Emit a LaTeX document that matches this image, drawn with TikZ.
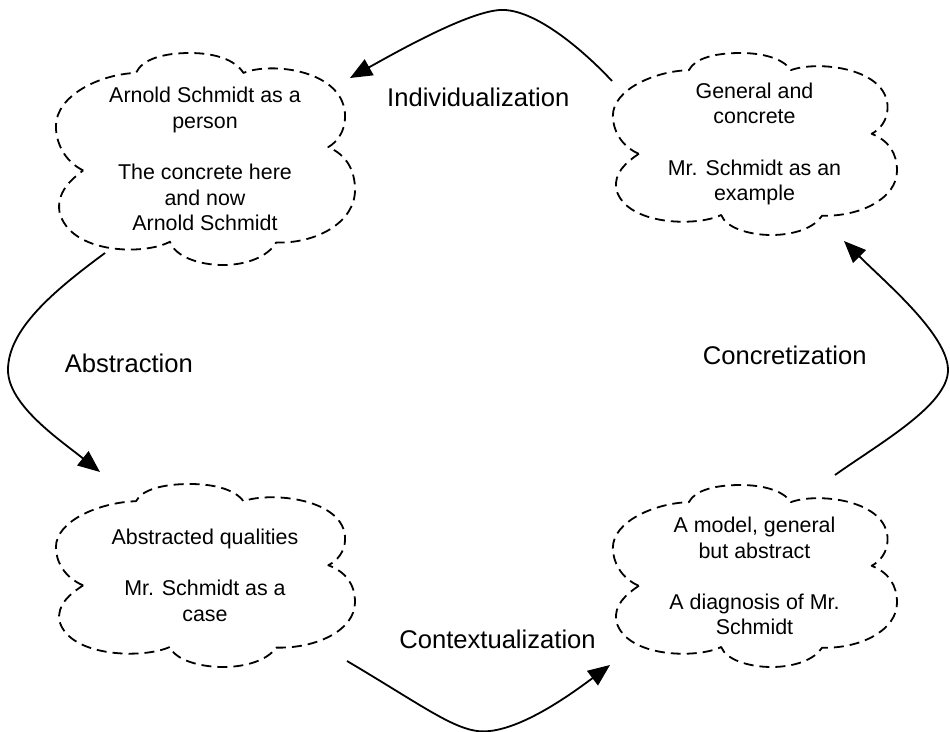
\documentclass[tikz,border=0pt]{standalone}
\usepackage{fontspec}
\setmainfont{Liberation Sans}
\usetikzlibrary{arrows.meta}
\tikzset{
  cloudline/.style={draw=black, line width=1.8bp, dash pattern=on 10bp off 6bp, line join=round},
  cloudtext/.style={align=center, inner sep=0pt, font=\fontsize{21.4bp}{25.6bp}\selectfont},
  lbl/.style={inner sep=0pt, font=\fontsize{25.6bp}{30bp}\selectfont},
  conn/.style={line width=1.8bp, -{Triangle[length=22bp,width=18bp]}},
}
\newcommand\cloudoutline[4]{%
  \draw[cloudline, shift={(#1,#2)}, xscale=#3, yscale=#4]
    (0.094,0.554) .. controls (0.03,0.51) and (0.003,0.42) .. (0.003,0.346)
      .. controls (0.003,0.2) and (0.15,0.1) .. (0.27,0.094)
    .. controls (0.29,0.03) and (0.36,0) .. (0.45,0)
      .. controls (0.53,0) and (0.6,0.03) .. (0.628,0.094)
    .. controls (0.72,0.04) and (0.967,0.08) .. (0.967,0.3)
      .. controls (0.967,0.37) and (0.94,0.42) .. (0.911,0.444)
    .. controls (0.97,0.48) and (1.0,0.55) .. (1.0,0.646)
      .. controls (1.0,0.8) and (0.87,0.9) .. (0.737,0.894)
    .. controls (0.71,0.96) and (0.64,1.0) .. (0.56,1.0)
      .. controls (0.48,1.0) and (0.4,0.96) .. (0.383,0.89)
    .. controls (0.3,0.955) and (0.05,0.95) .. (0.015,0.75)
      .. controls (0.005,0.66) and (0.05,0.6) .. (0.094,0.554)
    -- cycle;}
\begin{document}
\begin{tikzpicture}[x=1bp, y=-1bp]
\useasboundingbox (0,0) rectangle (950,732);

% clouds
\cloudoutline{55}{53}{300}{212}
\cloudoutline{612}{53}{285}{182}
\cloudoutline{55}{484}{300}{183}
\cloudoutline{612}{485}{285}{182}

\node[cloudtext] (tl) at (205,159) {Arnold Schmidt as a\\person\\[25.6bp]The concrete here\\and now\\Arnold Schmidt};
\node[cloudtext] (tr) at (754.5,144) {General and\\concrete\\[25.6bp]Mr. Schmidt as an\\example};
\node[cloudtext] (bl) at (205,575.5) {Abstracted qualities\\[25.6bp]Mr. Schmidt as a\\case};
\node[cloudtext] (br) at (754.5,576) {A model, general\\but abstract\\[25.6bp]A diagnosis of Mr.\\Schmidt};

% labels
\node[lbl] (lind) at (478.3,97.3) {Individualization};
\node[lbl] (labs) at (128.8,363.3) {Abstraction};
\node[lbl] (lctx) at (497.5,639.3) {Contextualization};
\node[lbl] (lcon) at (784.7,355) {Concretization};

% connector end points
\coordinate (tr-out) at (612,81);
\coordinate (tl-in) at (350,78);
\coordinate (tl-out) at (105,253);
\coordinate (bl-in) at (100,472);
\coordinate (bl-out) at (347,661);
\coordinate (br-in) at (610,665);
\coordinate (br-out) at (835,475);
\coordinate (tr-in) at (844,241);

\draw[conn] (tr-out) .. controls (585,52) and (535,8) .. (500,10) .. controls (468,12) and (400,50) .. (tl-in);
\draw[conn] (tl-out) .. controls (52,292) and (8,330) .. (8,370) .. controls (8,405) and (60,440) .. (bl-in);
\draw[conn] (bl-out) .. controls (430,710) and (460,735) .. (490,731) .. controls (525,727) and (570,695) .. (br-in);
\draw[conn] (br-out) .. controls (880,443) and (948,405) .. (948,370) .. controls (948,335) and (885,282) .. (tr-in);
\end{tikzpicture}
\end{document}
